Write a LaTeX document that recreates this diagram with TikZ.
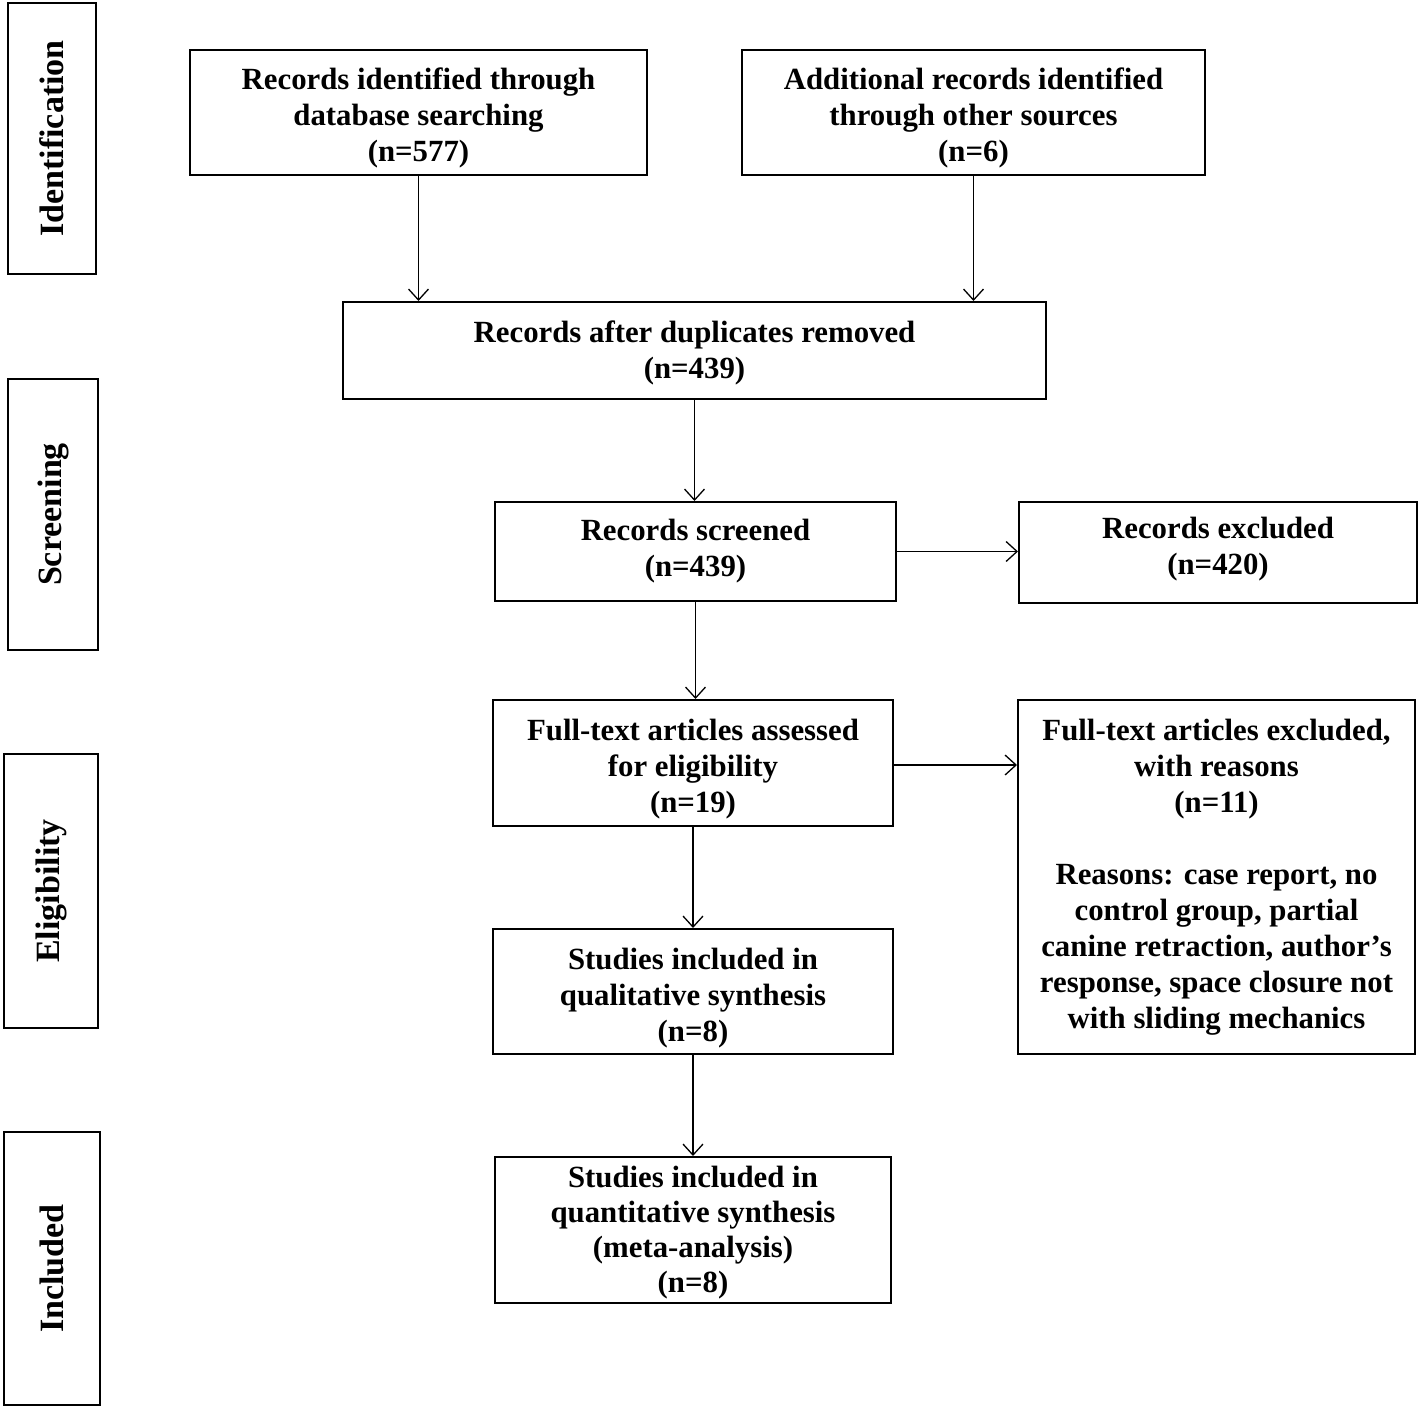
\documentclass[tikz,border=0pt]{standalone}
\usepackage{fontspec}
\setmainfont{Liberation Serif}
\usetikzlibrary{arrows.meta}
\begin{document}
\begin{tikzpicture}[x=0.5pt,y=-0.5pt,
  box/.style={draw,line width=1pt,inner sep=0pt},
  txt/.style={align=center,inner sep=0pt,
    font=\fontsize{15.4pt}{18pt}\selectfont\bfseries},
  side/.style={draw,line width=1pt,inner sep=0pt,
    font=\fontsize{17pt}{20pt}\selectfont\bfseries},
  conn/.style={line width=0.65pt,-{Straight Barb[length=5.5pt,width=10pt]}}]
\useasboundingbox (0,0) rectangle (1418,1407);
% side labels
\node[side,minimum width=44pt,minimum height=135.5pt] (sid) at (52,138.5) {\rotatebox{90}{Identification}};
\node[side,minimum width=45pt,minimum height=135.5pt] (sscr) at (53,514.5) {\rotatebox{90}{Screening}};
\node[side,minimum width=47pt,minimum height=137pt] (selig) at (51,891) {\rotatebox{90}{Eligibility}};
\node[side,minimum width=48pt,minimum height=136.5pt] (sinc) at (52,1268.5) {\rotatebox{90}{Included}};
% boxes
\node[box,minimum width=228.5pt,minimum height=62.5pt,
  label={[txt,yshift=-2.5pt]center:Records identified through\\database searching\\(n=577)}] (a) at (418.5,112.5) {};
\node[box,minimum width=231.5pt,minimum height=62.5pt,
  label={[txt,yshift=-2.5pt]center:Additional records identified\\through other sources\\(n=6)}] (b) at (973.5,112.5) {};
\node[box,minimum width=351.5pt,minimum height=48.5pt,
  label={[txt,yshift=-1pt]center:Records after duplicates removed\\(n=439)}] (c) at (694.5,350.5) {};
\node[box,minimum width=200.5pt,minimum height=49.5pt,
  label={[txt]center:Records screened\\(n=439)}] (d) at (695.5,551.5) {};
\node[box,minimum width=199pt,minimum height=50.5pt,
  label={[txt,yshift=1.5pt]center:Records excluded\\(n=420)}] (e) at (1218,552.5) {};
\node[box,minimum width=200pt,minimum height=63pt,
  label={[txt,yshift=-3pt]center:Full-text articles assessed\\for eligibility\\(n=19)}] (f) at (693,763) {};
\node[box,minimum width=198.5pt,minimum height=177pt,
  label={[txt]center:Full-text articles excluded,\\with reasons\\(n=11)\\[18pt]Reasons: case report, no\\control group, partial\\canine retraction, author’s\\response, space closure not\\with sliding mechanics}] (g) at (1216.5,877) {};
\node[box,minimum width=200pt,minimum height=62.5pt,
  label={[txt,yshift=-3.5pt]center:Studies included in\\qualitative synthesis\\(n=8)}] (h) at (693,991.5) {};
\node[box,minimum width=198pt,minimum height=73pt,
  label={[txt,font=\fontsize{15.4pt}{17.5pt}\selectfont\bfseries,yshift=-1.5pt]center:Studies included in\\quantitative synthesis\\(meta-analysis)\\(n=8)}] (i) at (693,1230) {};
% connectors
\draw[conn] (a.south) -- (a.south |- c.north);
\draw[conn] (b.south) -- (b.south |- c.north);
\draw[conn] (c.south) -- (c.south |- d.north);
\draw[conn] (d.east) -- (d.east -| e.west);
\draw[conn] (d.south) -- (d.south |- f.north);
\coordinate (fe) at ([yshift=-1pt]f.east);
\draw[conn] (fe) -- (fe -| g.west);
\draw[conn] (f.south) -- (f.south |- h.north);
\draw[conn] (h.south) -- (h.south |- i.north);
\end{tikzpicture}
\end{document}
